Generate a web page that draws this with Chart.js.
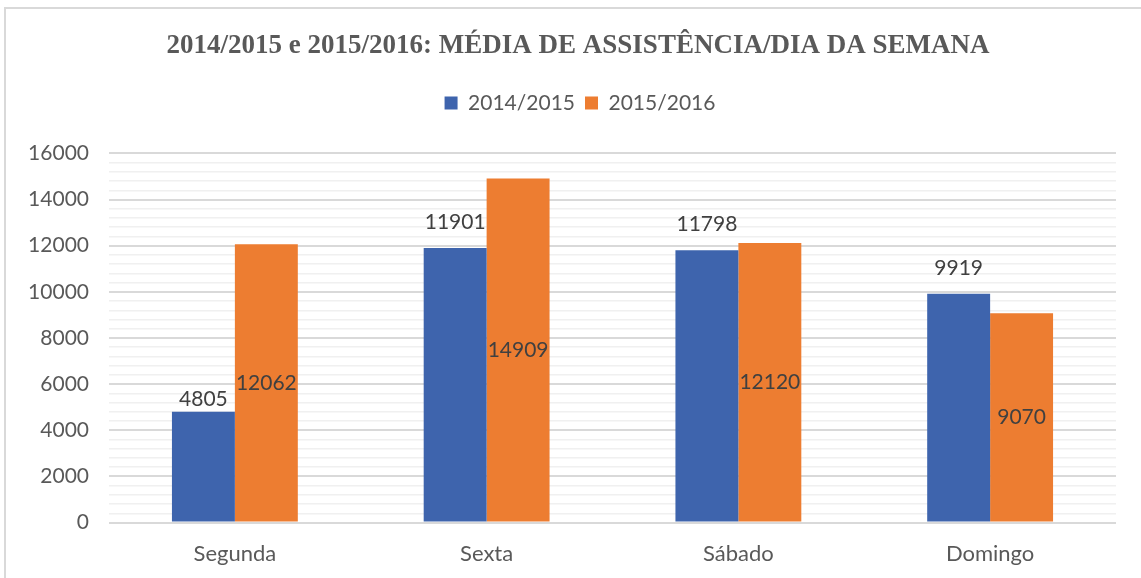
<!DOCTYPE html>
<html>
<head>
<meta charset="utf-8">
<script src="https://cdn.jsdelivr.net/npm/chart.js@4.4.1/dist/chart.umd.min.js"></script>
<style>
  html, body { margin: 0; padding: 0; background: #fff; }
  #wrap { position: relative; width: 1141px; height: 578px; }
</style>
</head>
<body>
<div id="wrap"><canvas id="myChart" width="1141" height="578"></canvas></div>
<script>
const dias = ['Segunda', 'Sexta', 'Sábado', 'Domingo'];
const epoca1 = [4805, 11901, 11798, 9919];   // 2014/2015
const epoca2 = [12062, 14909, 12120, 9070];  // 2015/2016
const seriesNames = ['2014/2015', '2015/2016'];
const titulo = '2014/2015 e 2015/2016: MÉDIA DE ASSISTÊNCIA/DIA DA SEMANA';

const txtFont = 'Lato, "Open Sans", sans-serif';
// how far (px) each blue label sits above its bar, as in the original
const labelLift = [12, 26, 26, 25];

// frame + white background
const frame = {
    id: 'frame',
    beforeDraw: chart => {
        const c = chart.ctx;
        c.save();
        c.fillStyle = '#fff';
        c.fillRect(0, 0, chart.width, chart.height);
        c.strokeStyle = '#d9d9d9';
        c.lineWidth = 2;
        c.beginPath();
        c.moveTo(5, chart.height);
        c.lineTo(5, 8);
        c.lineTo(chart.width, 8);
        c.stroke();
        c.restore();
    }
};

// extra room under the legend, and title/legend nudged right a bit
const headerFix = {
    id: 'headerFix',
    beforeInit: chart => {
        const fit = chart.legend.fit;
        chart.legend.fit = function () {
            fit.bind(chart.legend)();
            this.height += 30;
        };
    },
    afterLayout: chart => {
        chart.titleBlock.left += 16;
        chart.titleBlock.right += 16;
        chart.legend.left += 18;
        chart.legend.right += 18;
    }
};

// value labels: first series above the bar, second centred in the bar
const valueLabels = {
    id: 'valueLabels',
    afterDatasetsDraw: chart => {
        const c = chart.ctx;
        c.save();
        c.font = '21px ' + txtFont;
        c.fillStyle = '#404040';
        c.textAlign = 'center';
        c.textBaseline = 'middle';
        chart.data.datasets.forEach((ds, i) => {
            chart.getDatasetMeta(i).data.forEach((bar, j) => {
                const v = ds.data[j];
                const y = i === 0 ? bar.y - labelLift[j] : (bar.y + bar.base) / 2;
                c.fillText(String(v), bar.x, y);
            });
        });
        c.restore();
    }
};

const ctx = document.getElementById('myChart').getContext('2d');
const myChart = new Chart(ctx, {
    type: 'bar',
    data: {
        labels: dias,
        datasets: [{
            label: seriesNames[0],
            data: epoca1,
            backgroundColor: '#3e64ad',
            borderWidth: 0
        }, {
            label: seriesNames[1],
            data: epoca2,
            backgroundColor: '#ed7d31',
            borderWidth: 0
        }]
    },
    options: {
        responsive: false,
        animation: false,
        layout: { padding: { left: 8, right: 25, top: 0, bottom: 1 } },
        datasets: { bar: { categoryPercentage: 0.5, barPercentage: 1 } },
        plugins: {
            title: {
                display: true,
                text: titulo,
                color: '#595959',
                font: { family: '"Liberation Serif", serif', size: 27, weight: 'bold' },
                padding: { top: 30, bottom: 20 }
            },
            legend: {
                labels: {
                    boxWidth: 13,
                    boxHeight: 13,
                    color: '#595959',
                    font: { family: txtFont, size: 21 },
                    padding: 10
                }
            },
            tooltip: { enabled: false }
        },
        scales: {
            x: {
                grid: { display: false },
                border: { display: false },
                ticks: { color: '#595959', font: { family: txtFont, size: 22 }, padding: 10 }
            },
            y: {
                min: 0,
                max: 16000,
                afterFit: scale => { scale.width = 101; },
                border: { display: false },
                grid: {
                    drawTicks: false,
                    color: c => c.tick && c.tick.value % 2000 === 0 ? '#d9d9d9' : '#f0f0f0',
                    lineWidth: c => c.tick && c.tick.value % 2000 === 0 ? 2 : 1.5
                },
                ticks: {
                    stepSize: 400,
                    autoSkip: false,
                    color: '#595959',
                    font: { family: txtFont, size: 21 },
                    padding: 20,
                    callback: v => v % 2000 === 0 ? String(v) : ''
                }
            }
        }
    },
    plugins: [frame, headerFix, valueLabels]
});
</script>
</body>
</html>
